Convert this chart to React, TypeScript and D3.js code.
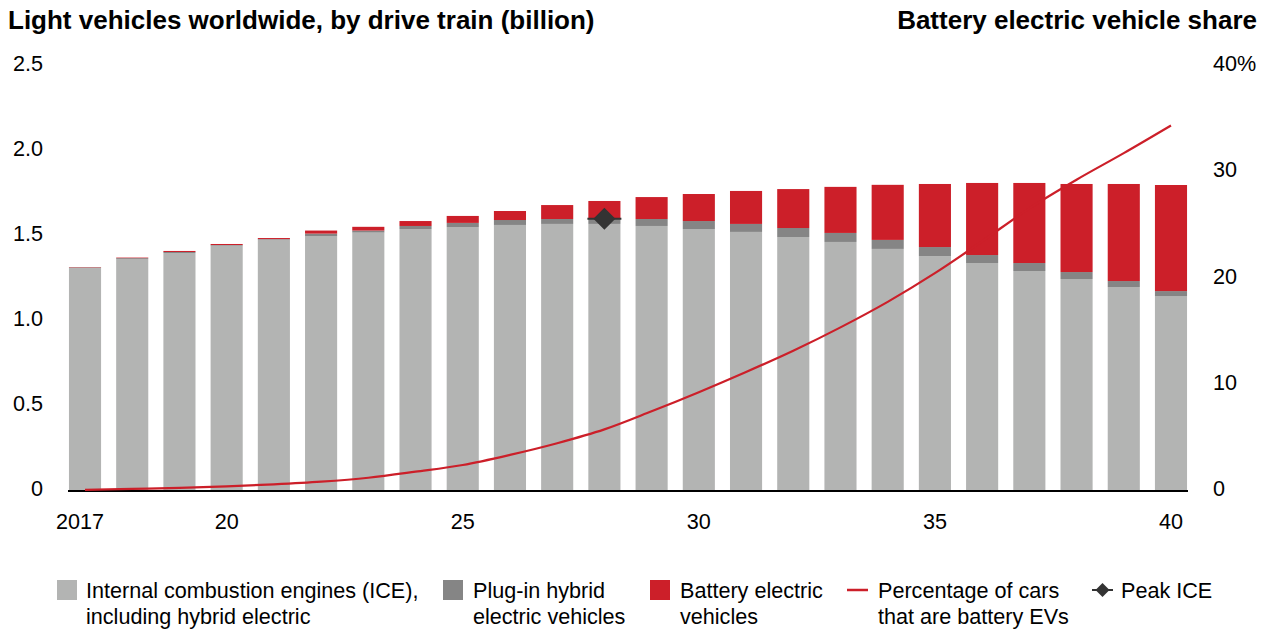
import React from "react";
import * as d3 from "d3";

const years = [2017, 2018, 2019, 2020, 2021, 2022, 2023, 2024, 2025, 2026, 2027, 2028, 2029, 2030, 2031, 2032, 2033, 2034, 2035, 2036, 2037, 2038, 2039, 2040];
const iceValues = [1.31, 1.365, 1.40, 1.443, 1.478, 1.50, 1.52, 1.541, 1.553, 1.565, 1.571, 1.571, 1.559, 1.541, 1.524, 1.494, 1.465, 1.424, 1.382, 1.341, 1.294, 1.247, 1.20, 1.147];
const phevValues = [0.005, 0.005, 0.006, 0.004, 0.004, 0.014, 0.012, 0.018, 0.024, 0.029, 0.029, 0.031, 0.041, 0.047, 0.047, 0.053, 0.053, 0.053, 0.053, 0.047, 0.047, 0.041, 0.035, 0.029];
const bevValues = [0.002, 0.003, 0.006, 0.006, 0.006, 0.018, 0.022, 0.029, 0.041, 0.053, 0.082, 0.104, 0.129, 0.159, 0.194, 0.229, 0.271, 0.324, 0.371, 0.424, 0.471, 0.518, 0.571, 0.624];
const bevSharePct = [0.1, 0.2, 0.3, 0.44, 0.63, 0.88, 1.25, 1.82, 2.45, 3.4, 4.5, 5.8, 7.5, 9.3, 11.2, 13.2, 15.4, 17.8, 20.5, 23.5, 26.6, 29.3, 31.8, 34.4];
const peakYear = 2028;
const leftTicks = [0, 0.5, 1.0, 1.5, 2.0, 2.5];
const rightTicks = [0, 10, 20, 30, 40];
const xTickYears = [2017, 2020, 2025, 2030, 2035, 2040];
const xTickLabels = ["2017", "20", "25", "30", "35", "40"];

const titleLeft = "Light vehicles worldwide, by drive train (billion)";
const titleRight = "Battery electric vehicle share";

const C_ICE = "#b3b4b3";
const C_PHEV = "#858585";
const C_BEV = "#cc1f29";
const C_DIAMOND = "#333333";
const FONT = "'Liberation Sans', Arial, Helvetica, sans-serif";

export default function App() {
  const W = 1268, H = 630;
  const x = d3.scaleBand<number>().domain(years).range([61.4, 1194.6]).paddingInner(0.32).paddingOuter(0.16);
  const y = d3.scaleLinear().domain([0, 2.5]).range([491, 66]);
  const yR = d3.scaleLinear().domain([0, 40]).range([491, 66]);
  const bw = x.bandwidth();
  const cx = (yr: number) => (x(yr) as number) + bw / 2;

  const line = d3.line<number>()
    .x((_, i) => cx(years[i]))
    .y((d) => yR(d))
    .curve(d3.curveMonotoneX);

  const pi = years.indexOf(peakYear);
  const peakY = y(iceValues[pi] + phevValues[pi]);
  const peakX = cx(peakYear);

  const diamond = (px: number, py: number, r: number) =>
    `M${px},${py - r}L${px + r},${py}L${px},${py + r}L${px - r},${py}Z`;

  const fs = 21.6;
  return (
    <svg width={W} height={H} style={{ position: "absolute", left: 0, top: 0, background: "#fff" }} fontFamily={FONT}>
      <text x={8} y={29} fontSize={26} fontWeight="bold" fill="#000">{titleLeft}</text>
      <text x={1257} y={29} fontSize={26} fontWeight="bold" fill="#000" textAnchor="end">{titleRight}</text>

      {leftTicks.map((t) => (
        <text key={"l" + t} x={43} y={y(t) + 5} fontSize={fs} textAnchor="end" fill="#000">
          {t === 0 ? "0" : t.toFixed(1)}
        </text>
      ))}
      {rightTicks.map((t) => (
        <text key={"r" + t} x={1213} y={yR(t) + 5} fontSize={fs} textAnchor="start" fill="#000">
          {t === 40 ? "40%" : String(t)}
        </text>
      ))}

      {years.map((yr, i) => {
        const ice = iceValues[i], ph = phevValues[i], bev = bevValues[i];
        const x0 = x(yr) as number;
        return (
          <g key={yr}>
            <rect x={x0} width={bw} y={y(ice)} height={y(0) - y(ice)} fill={C_ICE} />
            <rect x={x0} width={bw} y={y(ice + ph)} height={y(ice) - y(ice + ph)} fill={C_PHEV} />
            <rect x={x0} width={bw} y={y(ice + ph + bev)} height={y(ice + ph) - y(ice + ph + bev)} fill={C_BEV} />
          </g>
        );
      })}

      <line x1={68} x2={1188} y1={y(0)} y2={y(0)} stroke="#000" strokeWidth={2} />

      <path d={line(bevSharePct) || ""} fill="none" stroke={C_BEV} strokeWidth={2.2} />

      <line x1={peakX - 17} x2={peakX + 17} y1={peakY} y2={peakY} stroke={C_DIAMOND} strokeWidth={2} />
      <path d={diamond(peakX, peakY, 11)} fill={C_DIAMOND} />

      {xTickYears.map((yr, i) => (
        <text key={"x" + yr} x={cx(yr) + (i === 0 ? -5 : 0)} y={529} fontSize={fs} textAnchor="middle" fill="#000">
          {xTickLabels[i]}
        </text>
      ))}

      {/* Legend */}
      <rect x={57} y={580} width={20} height={20} fill={C_ICE} />
      <text x={86} y={598} fontSize={fs} fill="#000">
        <tspan x={86}>Internal combustion engines (ICE),</tspan>
        <tspan x={86} dy={26}>including hybrid electric</tspan>
      </text>
      <rect x={443} y={580} width={20} height={20} fill={C_PHEV} />
      <text x={473} y={598} fontSize={fs} fill="#000">
        <tspan x={473}>Plug-in hybrid</tspan>
        <tspan x={473} dy={26}>electric vehicles</tspan>
      </text>
      <rect x={650} y={580} width={20} height={20} fill={C_BEV} />
      <text x={680} y={598} fontSize={fs} fill="#000">
        <tspan x={680}>Battery electric</tspan>
        <tspan x={680} dy={26}>vehicles</tspan>
      </text>
      <line x1={847} x2={868} y1={590} y2={590} stroke={C_BEV} strokeWidth={2.5} />
      <text x={878} y={598} fontSize={fs} fill="#000">
        <tspan x={878}>Percentage of cars</tspan>
        <tspan x={878} dy={26}>that are battery EVs</tspan>
      </text>
      <line x1={1092} x2={1113} y1={590} y2={590} stroke={C_DIAMOND} strokeWidth={2} />
      <path d={diamond(1102.5, 590, 7)} fill={C_DIAMOND} />
      <text x={1121} y={598} fontSize={fs} fill="#000">Peak ICE</text>
    </svg>
  );
}
